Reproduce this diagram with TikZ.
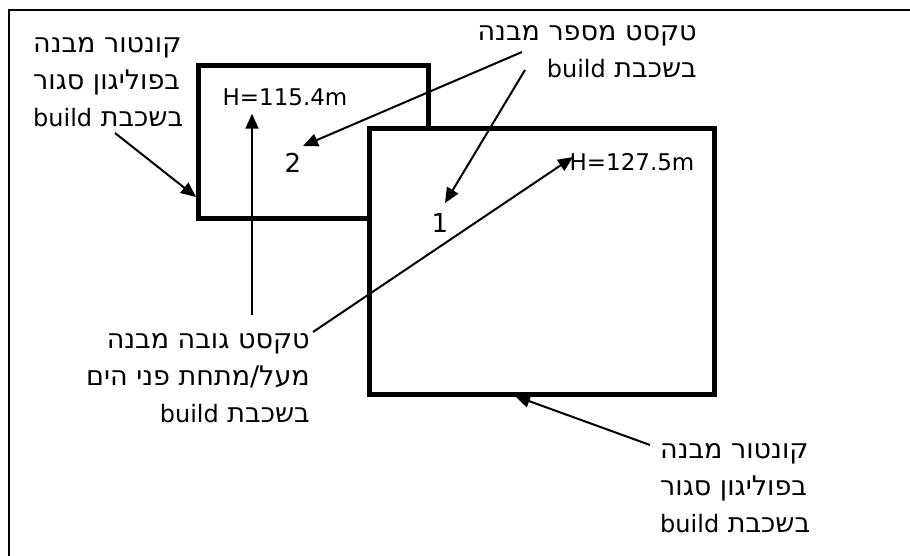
\documentclass[tikz,border=0pt]{standalone}
\usepackage{fontspec}
\setmainfont{DejaVu Sans}
\newfontfamily\hebfont[Script=Hebrew]{DejaVu Sans}
\newfontfamily\latfont{DejaVu Sans}
\TeXXeTstate=1
\usetikzlibrary{arrows.meta}
\newcommand\bldword{\beginL{\latfont\fontsize{24}{37}\selectfont build}\endL}

\begin{document}
\begin{tikzpicture}[x=1pt,y=-1pt,
    contour/.style={draw,line width=5pt,fill=white,inner sep=0pt,outer sep=0pt},
    heblabel/.style={font=\hebfont\fontsize{27}{37}\selectfont,inner sep=0pt},
    valtext/.style={font=\latfont\fontsize{23}{28}\selectfont,inner sep=1pt},
    numtext/.style={font=\latfont\fontsize{26}{30}\selectfont,inner sep=1pt},
    callout/.style={-{Triangle[length=15pt,width=13pt]},line width=2pt}]
  \useasboundingbox (0,0) rectangle (910,556);
  \draw [line width=2pt] (910,10) -- (9,10) -- (9,556);

  % building contours
  \node [contour,minimum width=230pt,minimum height=153pt] (box2) at (313.5,142) {};
  \node [contour,minimum width=345pt,minimum height=266pt] (box1) at (542,261.5) {};

  % values inside the contours
  \node [valtext] (h2) at (285,97) {H=115.4m};
  \node [numtext] (n2) at (293,163) {2};
  \node [numtext] (n1) at (440,223) {1};
  \node [valtext] (h1) at (632,162) {H=127.5m};

  % hebrew labels
  \node [heblabel,align=left,anchor=north west] (lblA) at (33,37)
    {\beginR קונטור מבנה\endR\\ \beginR בפוליגון סגור\endR\\ \beginR בשכבת \bldword\endR};
  \node [heblabel,align=right,anchor=north east] (lblB) at (697,25)
    {\beginR טקסט מספר מבנה\endR\\ \beginR בשכבת \bldword\endR};
  \node [heblabel,align=right,anchor=north east] (lblC) at (310,333)
    {\beginR טקסט גובה מבנה\endR\\ \beginR מעל/מתחת פני הים\endR\\ \beginR בשכבת \bldword\endR};
  \node [heblabel,align=left,anchor=north west] (lblD) at (660,443)
    {\beginR קונטור מבנה\endR\\ \beginR בפוליגון סגור\endR\\ \beginR בשכבת \bldword\endR};

  \coordinate (a1s) at (115,133);
  \coordinate (a1t) at (196,197);
  \coordinate (a2s) at (522,52);
  \coordinate (a2t) at (303,146);
  \coordinate (a3s) at (525,70);
  \coordinate (a3t) at (445,203);
  \coordinate (a4s) at (313,332);
  \coordinate (a4t) at (573,157);
  \coordinate (a5s) at (252,315);
  \coordinate (a6s) at (650,445);
  \coordinate (a6t) at (515,396);

  % callouts
  \draw [callout] (a1s) -- (a1t);
  \draw [callout] (a2s) -- (a2t);
  \draw [callout] (a3s) -- (a3t);
  \draw [callout] (a4s) -- (a4t);
  \draw [callout,shorten >=7pt] (a5s) -- (a5s |- h2.south);
  \draw [callout] (a6s) -- (a6t);
\end{tikzpicture}
\end{document}
